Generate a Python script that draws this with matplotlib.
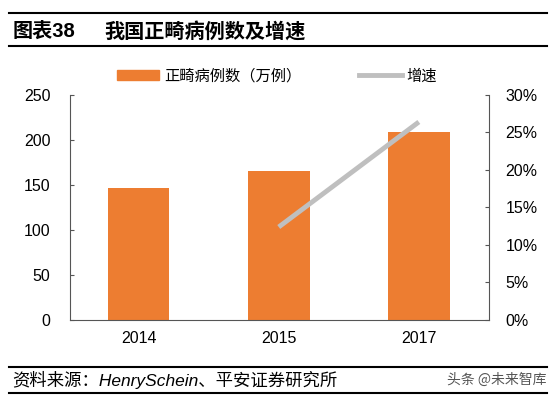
import matplotlib.pyplot as plt
from matplotlib.lines import Line2D

plt.rcParams['font.family'] = ['Liberation Sans', 'Noto Sans CJK SC', 'DejaVu Sans']

years = ['2014', '2015', '2017']
cases = [147, 165, 209]          # 正畸病例数（万例）
growth_years = ['2015', '2017']
growth = [12.4, 26.4]            # 增速 %

fig = plt.figure(figsize=(5.57, 3.99), dpi=100)
ax = fig.add_axes([0.1257, 0.198, 0.752, 0.564])
x = range(len(years))
ax.bar(x, cases, width=0.44, color='#ED7D31', zorder=2)
ax.set_xlim(-0.49, 2.5)
ax.set_ylim(0, 250)
ax.set_yticks(range(0, 251, 50))
ax.set_xticks(list(x))
ax.set_xticklabels(years)
ax.tick_params(axis='x', length=0, pad=8, labelsize=11.5)
ax.tick_params(axis='y', direction='in', length=3, pad=14, labelsize=11.5, color='#555555')
for s in ['top', 'right']:
    ax.spines[s].set_visible(False)
ax.spines['left'].set_color('#555555')
ax.spines['bottom'].set_color('#555555')

ax2 = ax.twinx()
gx = [years.index(y) for y in growth_years]
ax2.plot(gx, growth, color='#BFBFBF', lw=3.5, solid_capstyle='butt', zorder=3)
ax2.set_ylim(0, 30)
ax2.set_yticks(range(0, 31, 5))
ax2.set_yticklabels([f'{v}%' for v in range(0, 31, 5)])
ax2.tick_params(axis='y', direction='in', length=3, pad=12, labelsize=11.5, color='#555555')
for s in ['top', 'left', 'bottom']:
    ax2.spines[s].set_visible(False)
ax2.spines['right'].set_color('#555555')

handles = [plt.Rectangle((0, 0), 1, 1, color='#ED7D31'),
           Line2D([0], [0], color='#BFBFBF', lw=3.5)]
fig.legend(handles, ['正畸病例数（万例）', '增速'], loc='center', bbox_to_anchor=(0.497, 0.81),
           ncol=2, frameon=False, handlelength=2.8, handletextpad=0.3,
           columnspacing=3.8, prop={'family': ['Noto Sans CJK SC'], 'size': 11})

# header and footer
x0, x1 = 0.016, 0.982
for yp in [13, 46, 367, 393]:
    fig.add_artist(Line2D([x0, x1], [1 - yp / 399] * 2, color='black', lw=1.5))
fig.text(0.022, 1 - 31 / 399, '图表38', fontsize=14.5, fontweight='bold',
         va='center', family=['Liberation Sans', 'Noto Sans CJK SC'])
fig.text(0.187, 1 - 31 / 399, '我国正畸病例数及增速', fontsize=14.5, fontweight='bold',
         va='center', family=['Noto Sans CJK SC'])
fig.text(0.022, 1 - 380 / 399, '资料来源：HenrySchein、平安证券研究所', fontsize=12.5, style='italic',
         va='center', family=['Liberation Sans', 'Noto Sans CJK SC'])
fig.text(x1, 1 - 380 / 399, '头条 @未来智库', fontsize=10, color='#555555',
         va='center', ha='right', family=['Noto Sans CJK SC'])

fig.savefig('out.png', dpi=100)
